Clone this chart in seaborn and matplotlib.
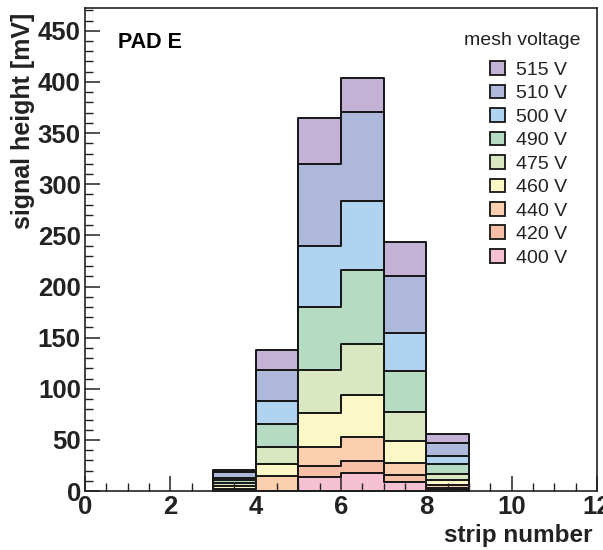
import numpy as np
import pandas as pd
import matplotlib
matplotlib.use("Agg")
import matplotlib.pyplot as plt
from matplotlib.patches import Patch
from matplotlib.ticker import MultipleLocator
from matplotlib.transforms import ScaledTranslation
import seaborn as sns

# strip centres (bins 3..9) and signal height per mesh voltage [mV]
strips = [3.5, 4.5, 5.5, 6.5, 7.5, 8.5]
voltages = ["515 V", "510 V", "500 V", "490 V", "475 V", "460 V", "440 V", "420 V", "400 V"]
h515 = [20.5, 138.0, 365.0, 404.0, 244.0, 56.0]
h510 = [19.0, 118.0, 320.0, 371.0, 210.0, 47.5]
h500 = [13.0, 88.5, 240.0, 284.0, 155.0, 34.5]
h490 = [10.5, 65.5, 180.0, 216.0, 117.0, 26.5]
h475 = [7.5, 43.0, 118.5, 143.5, 77.5, 16.5]
h460 = [5.0, 27.0, 76.5, 94.0, 49.5, 11.0]
h440 = [2.5, 15.0, 43.5, 52.5, 28.0, 6.0]
h420 = [1.5, 0.0, 25.0, 29.5, 16.0, 3.2]
h400 = [0.5, 0.0, 13.5, 18.0, 9.0, 1.2]
heights = [h515, h510, h500, h490, h475, h460, h440, h420, h400]
colors = ["#c4b2d6", "#adb8db", "#b0d4ef", "#b5dcc3", "#d9e8c2",
          "#fbf7c6", "#fccfae", "#f8bfa7", "#f7c1d4"]

sns.set_style("ticks")
plt.rcParams["font.family"] = ["Liberation Sans", "DejaVu Sans"]
plt.rcParams["font.weight"] = "bold"
plt.rcParams["axes.labelweight"] = "bold"

fig = plt.figure(figsize=(6.03, 5.50), dpi=100)
ax = fig.add_axes([0.141, 0.107, 0.849, 0.878])

bin_edges = list(range(3, 10))
# highest voltage first so lower ones sit in front
for lab, h, c in zip(voltages, heights, colors):
    df = pd.DataFrame({"strip": strips, "height": h})
    sns.histplot(data=df, x="strip", weights="height", bins=bin_edges,
                 element="step", fill=True, color=c, alpha=1,
                 edgecolor="#151515", linewidth=1.4, ax=ax)

ax.set_xlim(0, 12)
ax.set_ylim(0, 472)
ax.xaxis.set_major_locator(MultipleLocator(2))
ax.xaxis.set_minor_locator(MultipleLocator(0.5))
ax.yaxis.set_major_locator(MultipleLocator(50))
ax.yaxis.set_minor_locator(MultipleLocator(10))
ax.tick_params(which="major", direction="in", length=11, width=1.1,
               labelsize=18.5, colors="#222222", pad=3)
ax.tick_params(which="minor", direction="in", length=5.5, width=1.0, colors="#222222")
for lbl in ax.get_xticklabels() + ax.get_yticklabels():
    lbl.set_fontweight("bold")
for sp in ax.spines.values():
    sp.set_visible(True)
    sp.set_linewidth(1.2)
    sp.set_color("#222222")
ax.set_axisbelow(False)

# keep the last x tick label inside the figure edge
xlabels = ax.get_xticklabels()
xlabels[-1].set_transform(xlabels[-1].get_transform()
                          + ScaledTranslation(-4 / 100, 0, fig.dpi_scale_trans))

ax.set_xlabel("strip number", loc="right", fontsize=17.5, color="#222222")
ax.xaxis.set_label_coords(0.992, -0.069)
ax.set_ylabel("signal height [mV]", loc="top", fontsize=18, color="#222222")
ax.yaxis.set_label_coords(-0.098, 0.99)

ax.text(0.064, 0.93, "PAD E", transform=ax.transAxes, fontsize=15.5,
        fontweight="bold", va="center", ha="left", color="black")

ax.text(0.967, 0.934, "mesh voltage", transform=ax.transAxes, fontsize=14,
        fontweight="normal", va="center", ha="right", color="#222222")

handles = [Patch(facecolor=c, edgecolor="#151515", linewidth=1.3) for c in colors]
leg = ax.legend(handles, voltages, loc="upper right",
                bbox_to_anchor=(0.942, 0.890), frameon=False,
                borderpad=0, borderaxespad=0,
                prop={"size": 14, "weight": "normal"},
                handlelength=0.8, handleheight=0.7, handletextpad=0.55,
                labelspacing=0.30)
for t in leg.get_texts():
    t.set_color("#222222")

fig.savefig("out.png", dpi=100)
